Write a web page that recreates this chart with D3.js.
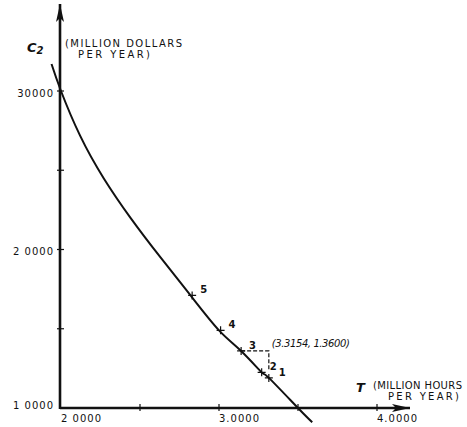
<!DOCTYPE html>
<html>
<head>
<meta charset="utf-8">
<script src="https://cdn.jsdelivr.net/npm/d3@7"></script>
<style>
  body { margin: 0; background: #fff; }
  text { font-family: "DejaVu Sans", sans-serif; fill: #111; }
</style>
</head>
<body>
<div id="chart"></div>
<script>
// Data
const curveT = [1.94, 2.0, 2.12, 2.27, 2.44, 2.63, 2.82, 3.0, 3.14, 3.27, 3.3154, 3.5, 3.59];
const curveC = [3.17, 3.0, 2.72, 2.45, 2.20, 1.95, 1.71, 1.49, 1.36, 1.225, 1.19, 1.0, 0.91];

const pointLabels = ["1", "2", "3", "4", "5"];
const pointT = [3.3154, 3.27, 3.14, 3.01, 2.83];
const pointC = [1.19, 1.225, 1.36, 1.49, 1.71];

const cornerT = 3.3154;
const cornerC = 1.36;
const cornerText = "(3.3154, 1.3600)";

const xTicks = [2, 3, 4];
const xTickLabels = ["2 0000", "3.0000", "4.0000"];
const xMinorTicks = [2.5, 3.5];
const yTicks = [1, 2, 3];
const yTickLabels = ["1 0000", "2 0000", "30000"];
const yMinorTicks = [1.5, 2.5];

const width = 467, height = 427;

const svg = d3.select("#chart").append("svg")
  .attr("width", width)
  .attr("height", height);

// Scales
const x = d3.scaleLinear().domain([2, 4]).range([61, 377]);
const y = d3.scaleLinear().domain([1, 3]).range([408, 91]);

// Arrow markers
const defs = svg.append("defs");
defs.append("marker")
  .attr("id", "arrow")
  .attr("viewBox", "0 -4 18 8")
  .attr("refX", 18)
  .attr("refY", 0)
  .attr("markerWidth", 18)
  .attr("markerHeight", 8)
  .attr("markerUnits", "userSpaceOnUse")
  .attr("orient", "auto")
  .append("path")
    .attr("d", "M0,-4L18,0L0,4L4,0Z")
    .attr("fill", "#111");

// Axis lines
svg.append("line")
  .attr("x1", x(2) - 1).attr("y1", y(1))
  .attr("x2", 410).attr("y2", y(1))
  .attr("stroke", "#111").attr("stroke-width", 2.6)
  .attr("marker-end", "url(#arrow)");

svg.append("line")
  .attr("x1", x(2) - 1).attr("y1", y(1) + 1)
  .attr("x2", x(2) - 1).attr("y2", 4)
  .attr("stroke", "#111").attr("stroke-width", 2.6)
  .attr("marker-end", "url(#arrow)");

// Ticks (crossing the axis)
const tickG = svg.append("g").attr("stroke", "#111").attr("stroke-width", 1.2);
tickG.selectAll(".xt")
  .data(xTicks.concat(xMinorTicks).filter(d => d > 2))
  .join("line")
    .attr("x1", d => x(d)).attr("x2", d => x(d))
    .attr("y1", y(1) - 4).attr("y2", y(1) + 3);
tickG.selectAll(".yt")
  .data(yTicks.concat(yMinorTicks).filter(d => d > 1))
  .join("line")
    .attr("x1", x(2) - 4).attr("x2", x(2) + 3)
    .attr("y1", d => y(d)).attr("y2", d => y(d));

// Tick labels
svg.selectAll(".xl")
  .data(xTicks)
  .join("text")
    .attr("x", d => x(d))
    .attr("y", y(1) + 14)
    .style("font-size", "10px")
    .style("letter-spacing", "1px")
    .text((d, i) => xTickLabels[i]);

svg.selectAll(".yl")
  .data(yTicks)
  .join("text")
    .attr("x", x(2) - 7)
    .attr("y", d => y(d))
    .attr("dy", d => d === 1 ? "0.1em" : "0.55em")
    .attr("text-anchor", "end")
    .style("font-size", "10px")
    .style("letter-spacing", "1px")
    .text((d, i) => yTickLabels[i]);

// Curve
const line = d3.line()
  .x(d => x(d[0]))
  .y(d => y(d[1]))
  .curve(d3.curveNatural);

svg.append("path")
  .datum(curveT.map((t, i) => [t, curveC[i]]))
  .attr("d", line)
  .attr("fill", "none")
  .attr("stroke", "#111")
  .attr("stroke-width", 2);

// Dashed guide from point 3 to the corner and down toward point 1
svg.append("path")
  .attr("d", "M" + x(pointT[2]) + "," + y(cornerC) +
             "H" + x(cornerT) +
             "V" + y(1.245))
  .attr("fill", "none")
  .attr("stroke", "#111")
  .attr("stroke-width", 1.2)
  .attr("stroke-dasharray", "4,2");

// Point markers
svg.selectAll(".pt")
  .data(pointT)
  .join("path")
    .attr("transform", (d, i) => "translate(" + x(d) + "," + y(pointC[i]) + ")")
    .attr("d", "M-4,0H4M0,-4V4")
    .attr("stroke", "#111")
    .attr("stroke-width", 1.2);

svg.selectAll(".plab")
  .data(pointT)
  .join("text")
    .attr("x", (d, i) => x(d) + (i === 0 ? 10 : 8))
    .attr("y", (d, i) => y(pointC[i]) - 2)
    .style("font-size", "10px")
    .style("font-weight", "bold")
    .text((d, i) => pointLabels[i]);

svg.append("text")
  .attr("x", x(cornerT) + 3)
  .attr("y", y(cornerC) - 4)
  .style("font-size", "10px")
  .style("font-style", "italic")
  .attr("textLength", 78)
  .text(cornerText);

// Y axis title
const yTitle = svg.append("text")
  .attr("x", 27)
  .attr("y", 52)
  .style("font-size", "13px")
  .style("font-style", "italic")
  .style("font-weight", "bold");
yTitle.append("tspan").text("C");
yTitle.append("tspan").attr("dy", 2).style("font-size", "10px").text("2");

svg.append("text")
  .attr("x", 65).attr("y", 47)
  .style("font-size", "10px")
  .attr("textLength", 117)
  .text("(MILLION  DOLLARS");
svg.append("text")
  .attr("x", 78).attr("y", 58)
  .style("font-size", "10px")
  .attr("textLength", 72)
  .text("PER  YEAR)");

// X axis title
svg.append("text")
  .attr("x", 356).attr("y", 392)
  .style("font-size", "13px")
  .style("font-style", "italic")
  .style("font-weight", "bold")
  .text("T");

svg.append("text")
  .attr("x", 373).attr("y", 389)
  .style("font-size", "10px")
  .attr("textLength", 89)
  .text("(MILLION  HOURS");
svg.append("text")
  .attr("x", 388).attr("y", 400)
  .style("font-size", "10px")
  .attr("textLength", 71)
  .text("PER  YEAR)");
</script>
</body>
</html>
